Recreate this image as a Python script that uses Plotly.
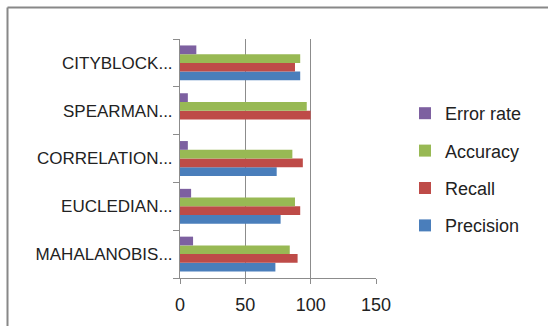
import plotly.graph_objects as go

categories = ["MAHALANOBIS...", "EUCLEDIAN...", "CORRELATION...", "SPEARMAN...", "CITYBLOCK..."]
precision = [73, 77, 74, 0, 92]
recall = [90, 92, 94, 100, 88]
accuracy = [84, 88, 86, 97, 92]
error_rate = [10, 8.5, 6, 6, 12.5]

series = [
    ("Precision", precision, "#4a7ebb", 4),
    ("Recall", recall, "#be4b48", 3),
    ("Accuracy", accuracy, "#98b954", 2),
    ("Error rate", error_rate, "#7d60a0", 1),
]

W, H = 548, 326
L, R, T, B = 180, 376, 39, 278

fig = go.Figure()
for name, vals, col, rank in series:
    fig.add_trace(go.Bar(y=categories, x=vals, name=name, orientation="h",
                         marker=dict(color=col, line=dict(width=0)),
                         legendgroup=name, legendrank=rank))

def px_x(p):
    return (p - L) / (R - L)

def px_y(p):
    return (B - p) / (B - T)

fig.update_layout(
    width=W, height=H,
    margin=dict(l=L, r=W - R, t=T, b=H - B, pad=0, autoexpand=False),
    paper_bgcolor="white", plot_bgcolor="white",
    barmode="group", bargap=0.27, bargroupgap=0,
    font=dict(family="Liberation Sans, Arial, sans-serif", size=17, color="#222"),
    legend=dict(traceorder="grouped", tracegroupgap=11,
                x=px_x(405), y=px_y(95), xanchor="left", yanchor="top",
                font=dict(size=18, color="#222"), bgcolor="rgba(0,0,0,0)"),
    xaxis=dict(range=[0, 150], tickvals=[0, 50, 100, 150], showgrid=True,
               gridcolor="#8c8c8c", gridwidth=1, zeroline=False,
               showline=True, linecolor="#8c8c8c", linewidth=1,
               ticks="outside", ticklen=5, tickcolor="#8c8c8c",
               tickfont=dict(size=18), fixedrange=True, automargin=False,
               ticklabelstandoff=5),
    yaxis=dict(showline=True, linecolor="#8c8c8c", linewidth=1,
               ticks="outside", ticklen=6, tickcolor="#8c8c8c",
               tickson="boundaries", showgrid=False, zeroline=False,
               tickfont=dict(size=17), ticklabelstandoff=3, automargin=False),
    shapes=[
        dict(type="line", xref="paper", yref="paper",
             x0=px_x(7.5), x1=px_x(560), y0=px_y(7.5), y1=px_y(7.5),
             line=dict(color="#888888", width=2)),
        dict(type="line", xref="paper", yref="paper",
             x0=px_x(7.5), x1=px_x(7.5), y0=px_y(7.5), y1=px_y(340),
             line=dict(color="#888888", width=2)),
    ],
)

fig.write_html("out.html", config={"displayModeBar": False},
               post_script="document.body.style.margin='0';")
